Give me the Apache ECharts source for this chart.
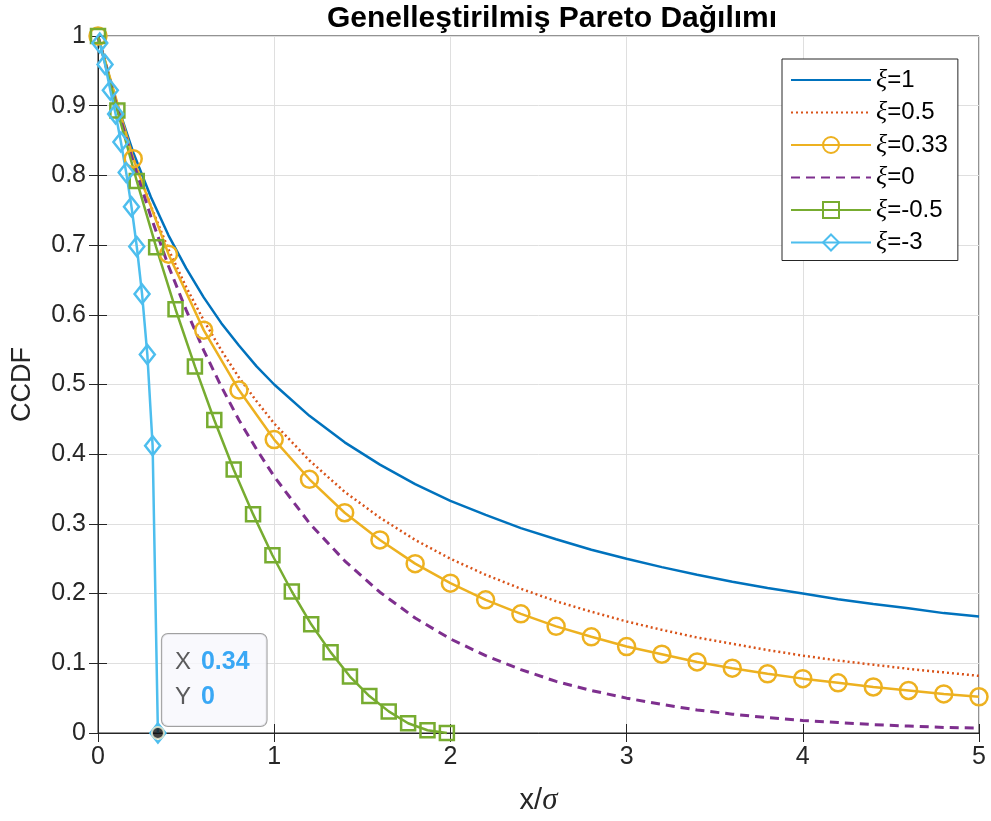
<!DOCTYPE html>
<html>
<head>
<meta charset="utf-8">
<title>Genelleştirilmiş Pareto Dağılımı</title>
<script src="https://cdn.jsdelivr.net/npm/echarts@6/dist/echarts.min.js"></script>
<style>
  html, body { margin: 0; padding: 0; background: #fff; }
  #chart { width: 991px; height: 821px; }
</style>
</head>
<body>
<div id="chart"></div>
<script>
// values
const xFine = [0, 0.1, 0.2, 0.3, 0.4, 0.5, 0.6, 0.7, 0.8, 0.9, 1.0,
  1.2, 1.4, 1.6, 1.8, 2.0, 2.2, 2.4, 2.6, 2.8, 3.0,
  3.2, 3.4, 3.6, 3.8, 4.0, 4.2, 4.4, 4.6, 4.8, 5.0]
const ccdfXi1 = [1, 0.909, 0.833, 0.769, 0.714, 0.667, 0.625, 0.588, 0.556, 0.526, 0.5,
  0.455, 0.417, 0.385, 0.357, 0.333, 0.313, 0.294, 0.278, 0.263, 0.25,
  0.238, 0.227, 0.217, 0.208, 0.2, 0.192, 0.185, 0.179, 0.172, 0.167]
const ccdfXi05 = [1, 0.907, 0.826, 0.756, 0.694, 0.64, 0.592, 0.549, 0.51, 0.476, 0.444,
  0.391, 0.346, 0.309, 0.277, 0.25, 0.227, 0.207, 0.189, 0.174, 0.16,
  0.148, 0.137, 0.128, 0.119, 0.111, 0.104, 0.098, 0.092, 0.087, 0.082]
const ccdfXi0 = [1, 0.905, 0.819, 0.741, 0.670, 0.607, 0.549, 0.497, 0.449, 0.407, 0.368,
  0.301, 0.247, 0.202, 0.165, 0.135, 0.111, 0.091, 0.074, 0.061, 0.05,
  0.041, 0.033, 0.027, 0.022, 0.018, 0.015, 0.012, 0.010, 0.008, 0.007]

const xCircle = [0, 0.2, 0.4, 0.6, 0.8, 1.0, 1.2, 1.4, 1.6, 1.8, 2.0, 2.2, 2.4,
  2.6, 2.8, 3.0, 3.2, 3.4, 3.6, 3.8, 4.0, 4.2, 4.4, 4.6, 4.8, 5.0]
const ccdfXi033 = [1, 0.824, 0.687, 0.578, 0.492, 0.421, 0.364, 0.316, 0.277, 0.243, 0.215, 0.191, 0.171,
  0.153, 0.138, 0.124, 0.113, 0.102, 0.093, 0.085, 0.078, 0.072, 0.066, 0.061, 0.056, 0.052]

const xSquare = [0, 0.11, 0.22, 0.33, 0.44, 0.55, 0.66, 0.77, 0.88, 0.99,
  1.10, 1.21, 1.32, 1.43, 1.54, 1.65, 1.76, 1.87, 1.98]
const ccdfXiNeg05 = [1, 0.893, 0.792, 0.697, 0.608, 0.526, 0.449, 0.378, 0.314, 0.255,
  0.203, 0.156, 0.116, 0.081, 0.053, 0.031, 0.014, 0.004, 0.0001]

const xDiamond = [0.01, 0.04, 0.07, 0.10, 0.13, 0.16, 0.19, 0.22, 0.25, 0.28, 0.31, 0.34]
const ccdfXiNeg3 = [0.990, 0.959, 0.922, 0.888, 0.848, 0.804, 0.755, 0.698, 0.630, 0.543, 0.412, 0]

const tipPoint = [0.34, 0]

const COLORS = ['#0072BD', '#D95319', '#EDB120', '#7E2F8E', '#77AC30', '#4DBEEE']
const AXIS_COLOR = '#262626'
const SANS = '"Liberation Sans", Arial, Helvetica, sans-serif'
const SERIF = '"Liberation Serif", "DejaVu Serif", serif'
const LW = 2.5

const pairs = (xs, ys) => xs.map((x, i) => [x, ys[i]])

const lineSeries = (name, xs, ys, color, extra) => Object.assign({
  name: name,
  type: 'line',
  data: pairs(xs, ys),
  clip: false,
  showSymbol: false,
  symbol: 'circle',
  lineStyle: { color: color, width: LW },
  // no marker: keep the legend symbol invisible too
  itemStyle: { color: 'rgba(0,0,0,0)', borderWidth: 0 },
  emphasis: { disabled: true },
}, extra || {})

const markerStyle = (color) => ({
  color: 'rgba(255,255,255,0)',
  borderColor: color,
  borderWidth: LW,
})

const chart = echarts.init(document.getElementById('chart'))

const option = {
  backgroundColor: '#fff',
  animation: false,
  title: {
    text: 'Genelleştirilmiş Pareto Dağılımı',
    left: 547,
    top: -1,
    textAlign: 'center',
    textStyle: { fontFamily: SANS, fontSize: 30, fontWeight: 'bold', color: '#000' },
  },
  grid: { left: 98, right: 12, top: 36, bottom: 88, show: true, borderColor: AXIS_COLOR, borderWidth: 1 },
  legend: {
    orient: 'vertical',
    left: 782,
    top: 59,
    itemWidth: 80,
    itemHeight: 20,
    itemGap: 6.5,
    padding: [8, 10, 5, 8],
    backgroundColor: '#fff',
    borderColor: AXIS_COLOR,
    borderWidth: 1,
    borderRadius: 0,
    data: ['ξ=1', 'ξ=0.5', 'ξ=0.33', 'ξ=0', 'ξ=-0.5', 'ξ=-3'],
    formatter: function (name) {
      return '{g|ξ}{t|' + name.slice(1) + '}'
    },
    textStyle: {
      color: '#000',
      rich: {
        g: { fontFamily: SERIF, fontStyle: 'italic', fontSize: 26, color: '#000' },
        t: { fontFamily: SANS, fontSize: 24, color: '#000' },
      },
    },
  },
  xAxis: [{
    type: 'value',
    min: 0,
    max: 5,
    interval: 1,
    name: '{n|x/}{s|σ}',
    nameLocation: 'middle',
    nameGap: 52,
    nameTextStyle: {
      rich: {
        n: { fontFamily: SANS, fontSize: 29, color: AXIS_COLOR },
        s: { fontFamily: SERIF, fontStyle: 'italic', fontSize: 31, color: AXIS_COLOR },
      },
    },
    axisLine: { lineStyle: { color: AXIS_COLOR, width: 1 } },
    axisTick: { inside: true, length: 9, lineStyle: { color: AXIS_COLOR } },
    axisLabel: { fontFamily: SANS, fontSize: 25, color: AXIS_COLOR, margin: 12 },
    splitLine: { show: true, lineStyle: { color: '#dfdfdf', width: 1 } },
  }, {
    type: 'value',
    position: 'top',
    min: 0,
    max: 5,
    interval: 1,
    axisLine: { lineStyle: { color: AXIS_COLOR, width: 1 } },
    axisTick: { inside: true, length: 9, lineStyle: { color: AXIS_COLOR } },
    axisLabel: { show: false },
    splitLine: { show: false },
  }],
  yAxis: [{
    type: 'value',
    min: 0,
    max: 1,
    interval: 0.1,
    name: 'CCDF',
    nameLocation: 'middle',
    nameGap: 62,
    nameRotate: 90,
    nameTextStyle: { fontFamily: SANS, fontSize: 27, color: AXIS_COLOR },
    axisLine: { show: true, lineStyle: { color: AXIS_COLOR, width: 1 } },
    axisTick: { show: true, inside: true, length: 9, lineStyle: { color: AXIS_COLOR } },
    axisLabel: { fontFamily: SANS, fontSize: 25, color: AXIS_COLOR, margin: 12 },
    splitLine: { show: true, lineStyle: { color: '#dfdfdf', width: 1 } },
  }, {
    type: 'value',
    position: 'right',
    min: 0,
    max: 1,
    interval: 0.1,
    axisLine: { show: true, lineStyle: { color: AXIS_COLOR, width: 1 } },
    axisTick: { show: true, inside: true, length: 9, lineStyle: { color: AXIS_COLOR } },
    axisLabel: { show: false },
    splitLine: { show: false },
  }],
  series: [
    lineSeries('ξ=1', xFine, ccdfXi1, COLORS[0]),
    lineSeries('ξ=0.5', xFine, ccdfXi05, COLORS[1], {
      lineStyle: { color: COLORS[1], width: LW, type: [2, 3] },
    }),
    lineSeries('ξ=0.33', xCircle, ccdfXi033, COLORS[2], {
      showSymbol: true,
      symbolSize: 17,
      itemStyle: markerStyle(COLORS[2]),
    }),
    lineSeries('ξ=0', xFine, ccdfXi0, COLORS[3], {
      lineStyle: { color: COLORS[3], width: LW + 0.5, type: [9, 6] },
    }),
    lineSeries('ξ=-0.5', xSquare, ccdfXiNeg05, COLORS[4], {
      showSymbol: true,
      symbol: 'rect',
      symbolSize: 14,
      itemStyle: markerStyle(COLORS[4]),
    }),
    lineSeries('ξ=-3', xDiamond, ccdfXiNeg3, COLORS[5], {
      showSymbol: true,
      symbol: 'diamond',
      symbolSize: [15, 19],
      itemStyle: markerStyle(COLORS[5]),
    }),
    {
      name: 'datatip',
      type: 'scatter',
      data: [tipPoint],
      clip: false,
      z: 10,
      symbol: 'circle',
      symbolSize: 12,
      itemStyle: { color: '#111', borderColor: '#f3efcf', borderWidth: 2 },
      emphasis: { disabled: true },
      label: {
        show: true,
        position: [11, -92],
        formatter: '{k|X}{v|' + tipPoint[0] + '}\n{k|Y}{v|' + tipPoint[1] + '}',
        backgroundColor: '#f8f8fd',
        borderColor: '#8a8a8a',
        borderWidth: 1,
        borderRadius: 6,
        padding: [11, 17, 11, 13],
        lineHeight: 35,
        rich: {
          k: { fontFamily: SANS, fontSize: 24, color: '#333', lineHeight: 35, padding: [0, 10, 0, 0] },
          v: { fontFamily: SANS, fontSize: 25, fontWeight: 'bold', color: '#0a94f2', lineHeight: 35 },
        },
      },
    },
  ],
}

chart.setOption(option)
</script>
</body>
</html>
